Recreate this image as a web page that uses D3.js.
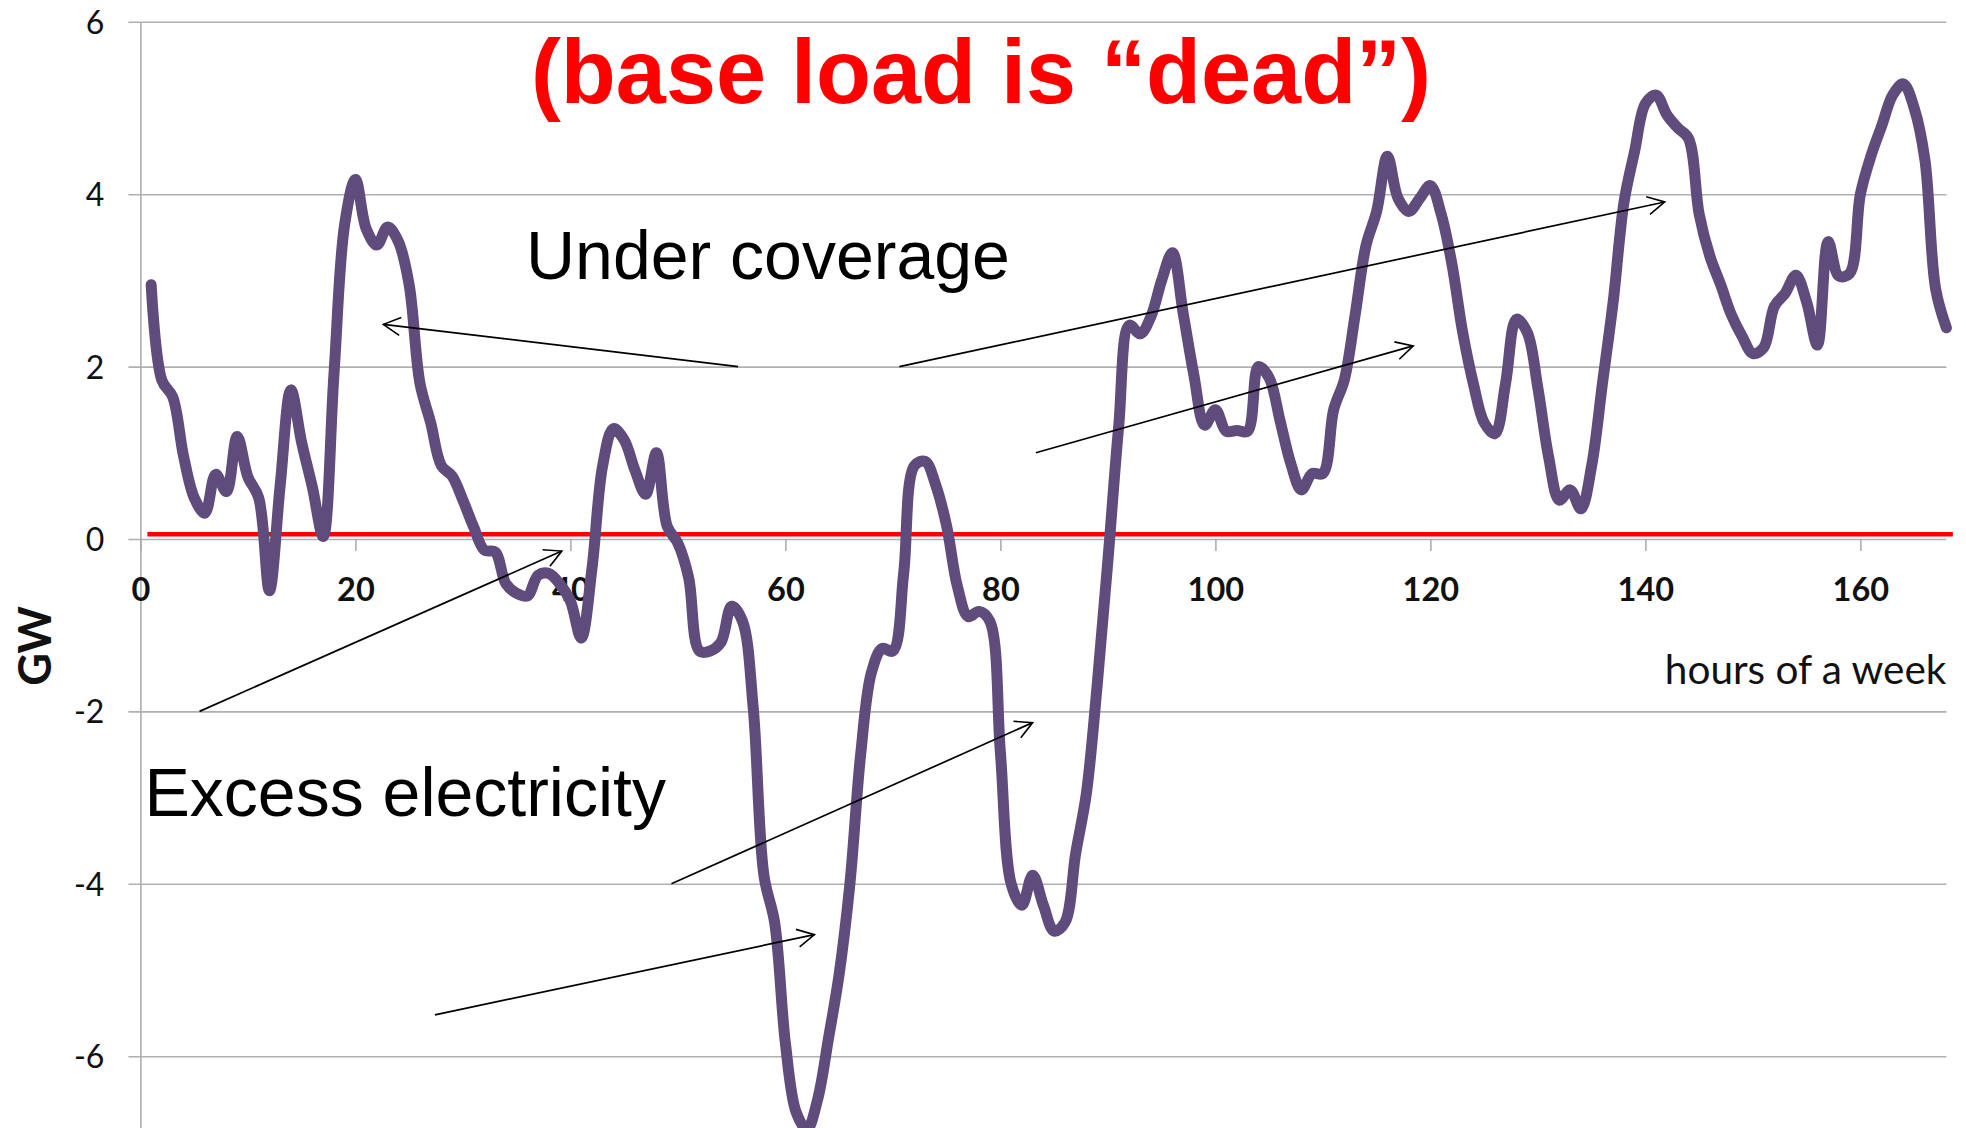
<!DOCTYPE html>
<html>
<head>
<meta charset="utf-8">
<script src="https://cdnjs.cloudflare.com/ajax/libs/d3/7.8.5/d3.min.js"></script>
<style>
body{margin:0;background:#fff;overflow:hidden}
</style>
</head>
<body>
<div class="canvas"></div>
<script>
const canvasWidth=1966, canvasHeight=1128;

// hourly residual load over one week (GW), hours 1..168
const hours = d3.range(1, 169);
const gw = [
 2.95, 1.84, 1.65, 0.97, 0.48, 0.30, 0.75, 0.55, 1.19, 0.72,
 0.48,-0.60, 0.62, 1.73, 1.12, 0.60, 0.03, 1.90, 3.65, 4.17,
 3.60, 3.41, 3.62, 3.45, 2.95, 1.81, 1.35, 0.85, 0.73, 0.45,
 0.14,-0.13,-0.15,-0.52,-0.63,-0.66,-0.42,-0.40,-0.52,-0.72,
-1.15,-0.35, 0.85, 1.28, 1.15, 0.80, 0.52, 1.00, 0.15,-0.05,
-0.45,-1.30,-1.30,-1.20,-0.78,-0.95,-1.95,-3.90,-4.45,-5.85,
-6.65,-6.85,-6.50,-5.80,-5.05,-4.00,-2.50,-1.55,-1.27,-1.30,
-0.40, 0.85, 0.90, 0.62, 0.15,-0.55,-0.90,-0.84,-0.95,-2.48,
-4.00,-4.25,-3.90,-4.25,-4.55,-4.45,-3.65,-2.95,-1.70,-0.25,
 1.30, 2.48, 2.38, 2.58, 3.00, 3.32, 2.62, 1.90, 1.32, 1.50,
 1.25, 1.26, 1.25, 2.00, 1.87, 1.38, 0.88, 0.57, 0.76, 0.76,
 1.50, 1.85, 2.60, 3.40, 3.80, 4.44, 3.95, 3.80, 3.95, 4.10,
 3.77, 3.19, 2.40, 1.80, 1.35, 1.22, 1.81, 2.55, 2.40, 1.75,
 0.95, 0.45, 0.57, 0.35, 0.85, 1.80, 2.75, 3.90, 4.50, 5.05,
 5.15, 4.92, 4.77, 4.65, 3.77, 3.28, 2.95, 2.60, 2.35, 2.15,
 2.22, 2.70, 2.85, 3.06, 2.75, 2.25, 3.45, 3.05, 3.08, 4.00,
 4.45, 4.80, 5.15, 5.28, 5.00, 4.40, 2.90, 2.45
];

const xTicks = [0,20,40,60,80,100,120,140,160];
const yTicks = [-6,-4,-2,0,2,4,6];

// red "base load" line: level and hour span
const baseLoad = 0.055;
const baseSpan = [0.65, 168.6];

// annotation arrows [hour, GW] start -> end
const arrowFrom = [[55.6,2],[70.6,2],[83.3,1],[5.5,-2],[49.4,-4],[27.4,-5.52]];
const arrowTo   = [[22.6,2.49],[141.8,3.91],[118.4,2.24],[39.2,-0.14],[83.0,-2.13],[62.7,-4.59]];

const title = "(base load is \u201cdead\u201d)";
const labelUnder = "Under coverage";
const labelExcess = "Excess electricity";

const xScale = d3.scaleLinear().domain([0,168]).range([140.4, 1946.4]);
const yScale = d3.scaleLinear().domain([-8,6]).range([1228.6, 21.8]);

const CANVAS = d3.select(".canvas")
  .append("svg")
  .attr("width", canvasWidth)
  .attr("height", canvasHeight)
  .style("display","block")
  .style("background-color","white");

CANVAS.append("defs").append("marker")
  .attr("id","head")
  .attr("markerUnits","userSpaceOnUse")
  .attr("viewBox","-20 -11 22 22")
  .attr("markerWidth",22).attr("markerHeight",22)
  .attr("refX",0).attr("refY",0)
  .attr("orient","auto")
  .append("path")
  .attr("d","M-17,-9L0,0L-17,9")
  .attr("fill","none")
  .attr("stroke","#000")
  .attr("stroke-width",1.6);

const plotW = xScale(168)-xScale(0);

// y axis with gridlines
const yAxis = d3.axisLeft(yScale)
  .tickValues(yTicks)
  .tickSizeInner(-plotW)
  .tickSizeOuter(0)
  .tickPadding(36)
  .tickFormat(d3.format("d"));

const gy = CANVAS.append("g")
  .attr("id","y-axis")
  .attr("transform",`translate(${xScale(0)},0)`)
  .call(yAxis);
gy.select(".domain").attr("stroke","#a9a9a9").attr("stroke-width",1.5);
gy.selectAll(".tick line").attr("x1",-12).attr("stroke","#b0b0b0").attr("stroke-width",1.6);
gy.selectAll(".tick text")
  .attr("font-family","Lato, 'Open Sans', sans-serif")
  .attr("font-size",32)
  .attr("fill","#111")
  .attr("dy","0.36em")
  .text(d => d < 0 ? "-" + Math.abs(d) : d);

// x axis at 0
const xAxis = d3.axisBottom(xScale)
  .tickValues(xTicks)
  .tickSize(12)
  .tickSizeOuter(0);

const gx = CANVAS.append("g")
  .attr("id","x-axis")
  .attr("transform",`translate(0,${yScale(0)})`)
  .call(xAxis);
gx.select(".domain").remove();
gx.selectAll(".tick line").attr("stroke","#a9a9a9").attr("stroke-width",1.5);
gx.selectAll(".tick text")
  .attr("font-family","Lato, 'Open Sans', sans-serif")
  .attr("font-weight",700)
  .attr("font-size",32.5)
  .attr("fill","#111")
  .attr("y",61.5)
  .attr("dy",0);

CANVAS.append("text")
  .attr("transform","translate(51,646) rotate(-90)")
  .attr("text-anchor","middle")
  .attr("font-family","Lato, 'Open Sans', sans-serif")
  .attr("font-weight",700)
  .attr("font-size",45)
  .attr("fill","#111")
  .text("GW");

CANVAS.append("text")
  .attr("x",xScale(168))
  .attr("y",684)
  .attr("text-anchor","end")
  .attr("font-family","Lato, 'Open Sans', sans-serif")
  .attr("font-size",40.5)
  .attr("fill","#111")
  .text("hours of a week");

// base load line
CANVAS.append("line")
  .attr("x1",xScale(baseSpan[0]))
  .attr("x2",xScale(baseSpan[1]))
  .attr("y1",yScale(baseLoad))
  .attr("y2",yScale(baseLoad))
  .attr("stroke","#ff0000")
  .attr("stroke-width",4.6);

const line = d3.line()
  .x((d,i) => xScale(hours[i]))
  .y(d => yScale(d))
  .curve(d3.curveCatmullRom.alpha(0.5));

CANVAS.append("path")
  .datum(gw)
  .attr("d",line)
  .attr("fill","none")
  .attr("stroke","#5f4b7c")
  .attr("stroke-width",11)
  .attr("stroke-linejoin","round")
  .attr("stroke-linecap","round");

CANVAS.selectAll(".arrow")
  .data(arrowFrom)
  .enter()
  .append("line")
  .attr("class","arrow")
  .attr("x1",d => xScale(d[0]))
  .attr("y1",d => yScale(d[1]))
  .attr("x2",(d,i) => xScale(arrowTo[i][0]))
  .attr("y2",(d,i) => yScale(arrowTo[i][1]))
  .attr("stroke","#000")
  .attr("stroke-width",1.7)
  .attr("marker-end","url(#head)");

CANVAS.append("text")
  .attr("x",981)
  .attr("y",103)
  .attr("text-anchor","middle")
  .attr("font-family","'Liberation Sans', Arial, sans-serif")
  .attr("font-weight",700)
  .attr("font-size",90)
  .attr("fill","#ff0000")
  .text(title);

CANVAS.append("text")
  .attr("x",526)
  .attr("y",279)
  .attr("font-family","'Liberation Sans', Arial, sans-serif")
  .attr("font-size",68)
  .attr("fill","#000")
  .text(labelUnder);

CANVAS.append("text")
  .attr("x",144.5)
  .attr("y",816)
  .attr("font-family","'Liberation Sans', Arial, sans-serif")
  .attr("font-size",68)
  .attr("fill","#000")
  .text(labelExcess);
</script>
</body>
</html>
